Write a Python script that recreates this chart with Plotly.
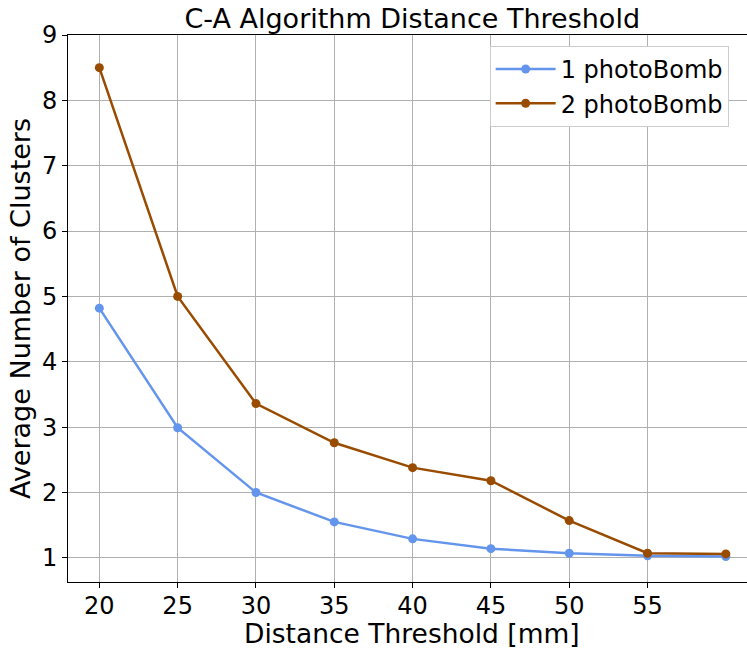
import plotly.graph_objects as go

thresholds = [20, 25, 30, 35, 40, 45, 50, 55, 60]
one_photobomb = [4.82, 2.99, 2.00, 1.55, 1.29, 1.14, 1.07, 1.03, 1.02]
two_photobomb = [8.50, 5.00, 3.36, 2.76, 2.38, 2.18, 1.57, 1.07, 1.06]
x_ticks = [20, 25, 30, 35, 40, 45, 50, 55]
y_ticks = [1, 2, 3, 4, 5, 6, 7, 8, 9]

FONT = "DejaVu Sans"

fig = go.Figure()
fig.add_trace(go.Scatter(x=thresholds, y=one_photobomb, mode="lines+markers",
                         name="1 photoBomb",
                         line=dict(color="#6495ED", width=2.5),
                         marker=dict(color="#6495ED", size=9)))
fig.add_trace(go.Scatter(x=thresholds, y=two_photobomb, mode="lines+markers",
                         name="2 photoBomb",
                         line=dict(color="#994C00", width=2.5),
                         marker=dict(color="#994C00", size=9)))

fig.update_layout(
    template="none",
    width=747, height=650,
    margin=dict(l=68, r=0, t=35, b=68),
    paper_bgcolor="white", plot_bgcolor="white",
    font=dict(family=FONT, size=24, color="black"),
    title=dict(text="C-A Algorithm Distance Threshold", xref="paper", x=0.507,
               xanchor="center", y=0.972, yanchor="middle",
               font=dict(size=27, family=FONT)),
    legend=dict(x=0.621, y=0.98, xanchor="left", yanchor="top",
                bgcolor="white", bordercolor="#cccccc", borderwidth=1,
                itemwidth=60,
                font=dict(size=24, family=FONT)),
    showlegend=True,
    annotations=[dict(text="Distance Threshold [mm]", xref="paper", yref="paper",
                      x=0.507, y=-0.1252, xanchor="center", yanchor="bottom",
                      showarrow=False, borderpad=0,
                      font=dict(size=26.5, family=FONT, color="black"))],
)
fig.update_xaxes(range=[18, 61.35], tickvals=x_ticks, ticks="outside", ticklen=5,
                 tickcolor="black", showgrid=True, gridcolor="#b0b0b0", gridwidth=1,
                 showline=True, linecolor="black", linewidth=1, mirror=True,
                 zeroline=False, tickfont=dict(size=24), automargin=False,
                 ticklabelstandoff=-3)
fig.update_yaxes(range=[0.63, 9], tickvals=y_ticks, ticks="outside", ticklen=5,
                 tickcolor="black", showgrid=True, gridcolor="#b0b0b0", gridwidth=1,
                 showline=True, linecolor="black", linewidth=1, mirror=False,
                 zeroline=False, tickfont=dict(size=24), automargin=False,
                 title=dict(text="Average Number of Clusters", font=dict(size=27), standoff=3))

fig.write_html("out.html")
